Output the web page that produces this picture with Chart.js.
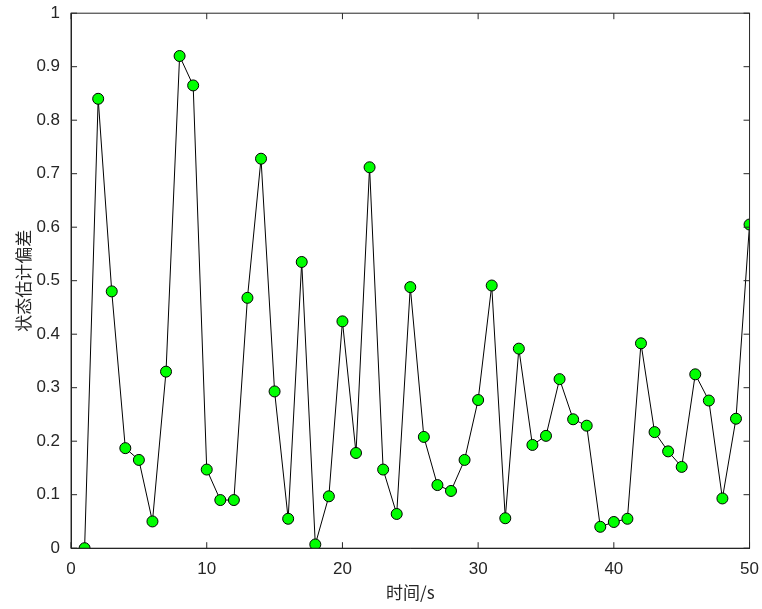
<!DOCTYPE html>
<html>
<head>
<meta charset="utf-8">
<script src="https://cdn.jsdelivr.net/npm/chart.js@4"></script>
<style>
  html, body { margin: 0; padding: 0; background: #fff; }
  #wrap { width: 762px; height: 609px; }
</style>
</head>
<body>
<div id="wrap"><canvas id="chart" width="762" height="609"></canvas></div>
<script>
const times = [];
for (let t = 1; t <= 50; t++) times.push(t);
const errors = [0.0, 0.84, 0.48, 0.187, 0.165, 0.05, 0.33, 0.92, 0.865, 0.147,
  0.09, 0.09, 0.468, 0.728, 0.293, 0.055, 0.535, 0.007, 0.097, 0.424,
  0.178, 0.712, 0.147, 0.064, 0.488, 0.208, 0.118, 0.107, 0.165, 0.277,
  0.491, 0.056, 0.373, 0.193, 0.21, 0.316, 0.241, 0.229, 0.04, 0.049,
  0.055, 0.383, 0.217, 0.181, 0.152, 0.325, 0.276, 0.093, 0.242, 0.605];
const xTicks = [0, 10, 20, 30, 40, 50];

// frame plus inward tick marks
const boxPlugin = {
  id: "box",
  afterDraw(chart) {
    const { ctx, chartArea: a, scales } = chart;
    ctx.save();
    ctx.strokeStyle = "#262626";
    ctx.lineWidth = 1;
    ctx.strokeRect(a.left, a.top, a.right - a.left, a.bottom - a.top);
    ctx.beginPath();
    scales.x.ticks.forEach(t => {
      const px = scales.x.getPixelForValue(t.value);
      ctx.moveTo(px, a.bottom); ctx.lineTo(px, a.bottom - 6);
      ctx.moveTo(px, a.top); ctx.lineTo(px, a.top + 6);
    });
    scales.y.ticks.forEach(t => {
      const py = scales.y.getPixelForValue(t.value);
      ctx.moveTo(a.left, py); ctx.lineTo(a.left + 6, py);
      ctx.moveTo(a.right, py); ctx.lineTo(a.right - 6, py);
    });
    ctx.stroke();
    ctx.restore();
  }
};

new Chart(document.getElementById("chart"), {
  type: "line",
  data: {
    datasets: [{
      data: times.map((t, i) => ({ x: t, y: errors[i] })),
      borderColor: "#000",
      borderWidth: 1,
      pointBackgroundColor: "#00ff00",
      pointBorderColor: "#000",
      pointBorderWidth: 1,
      pointRadius: 5.5,
      tension: 0
    }]
  },
  options: {
    responsive: false,
    animation: false,
    layout: { padding: { top: 0, right: 12, left: 13, bottom: 6 } },
    plugins: { legend: { display: false }, tooltip: { enabled: false } },
    scales: {
      x: {
        type: "linear", min: 0, max: 50,
        afterBuildTicks: s => { s.ticks = xTicks.map(v => ({ value: v })); },
        grid: { display: false },
        border: { color: "#262626" },
        ticks: { color: "#262626", font: { family: "Arial, Liberation Sans", size: 17 } },
        title: { display: true, text: "时间/s", color: "#262626", font: { family: "Noto Sans CJK SC", size: 17 }, padding: 0 }
      },
      y: {
        min: 0, max: 1,
        ticks: { stepSize: 0.1, color: "#262626", font: { family: "Arial, Liberation Sans", size: 17 },
          callback: v => Math.round(v * 10) / 10 },
        grid: { display: false },
        border: { color: "#262626" },
        title: { display: true, text: "状态估计偏差", color: "#262626", font: { family: "Noto Sans CJK SC", size: 17 }, padding: 0 }
      }
    }
  },
  plugins: [boxPlugin]
});
</script>
</body>
</html>
